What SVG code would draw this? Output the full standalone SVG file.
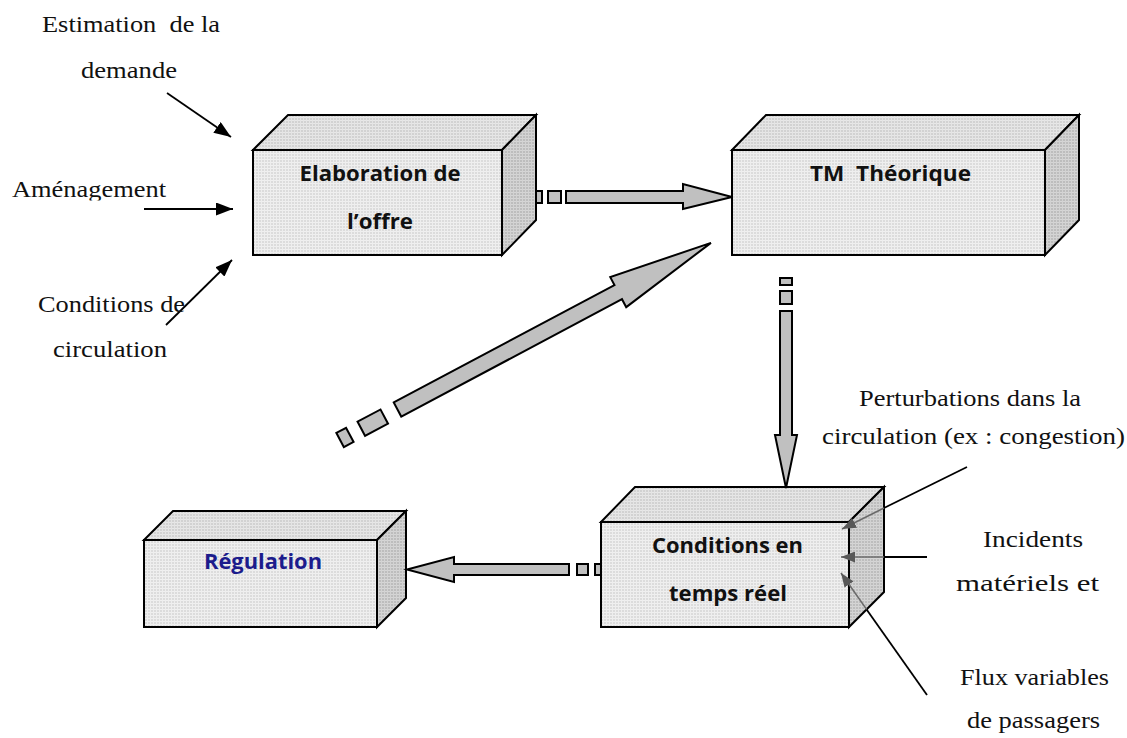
<svg xmlns="http://www.w3.org/2000/svg" width="1127" height="738" viewBox="0 0 1127 738">
<style>
.face{stroke:#000;stroke-width:2;stroke-linejoin:miter}
.front{fill:url(#pFront)}
.top{fill:url(#pTop)}
.side{fill:url(#pSide)}
.lbl{font-family:"Open Sans","Liberation Sans",sans-serif;font-weight:700;font-size:21px;fill:#111;text-anchor:middle}
.ext{font-family:"Liberation Serif","Times New Roman",Times,serif;font-size:23.5px;fill:#111;white-space:pre}
.blk{fill:#c0c0c0;stroke:#000;stroke-width:2;stroke-linejoin:miter}
.ln{stroke:#000;stroke-width:1.8;fill:none}
.lng{stroke:#6a6a6a;stroke-width:1.6;fill:none}
</style>
<defs>
<pattern id="pFront" width="3" height="3" patternUnits="userSpaceOnUse">
<rect width="3" height="3" fill="#dcdcdc"/>
<rect width="3" height="1" fill="#f0f0f0"/>
<rect width="1" height="3" fill="#eeeeee"/>
</pattern>
<pattern id="pTop" width="3" height="3" patternUnits="userSpaceOnUse">
<rect width="3" height="3" fill="#d2d2d2"/>
<rect width="3" height="1" fill="#e8e8e8"/>
<rect width="1" height="3" fill="#e4e4e4"/>
</pattern>
<pattern id="pSide" width="3" height="3" patternUnits="userSpaceOnUse">
<rect width="3" height="3" fill="#bdbdbd"/>
<rect width="3" height="1" fill="#d6d6d6"/>
<rect width="1" height="3" fill="#d2d2d2"/>
</pattern>
<marker id="mBlk" viewBox="0 0 17 13" refX="17" refY="6.5" markerWidth="17" markerHeight="13" markerUnits="userSpaceOnUse" orient="auto">
<path d="M0,0 L17,6.5 L0,13 z" fill="#000"/>
</marker>
<marker id="mGry" viewBox="0 0 14 11" refX="14" refY="5.5" markerWidth="14" markerHeight="11" markerUnits="userSpaceOnUse" orient="auto">
<path d="M0,0 L14,5.5 L0,11 z" fill="#585858"/>
</marker>
<clipPath id="clipAm"><rect x="0" y="150" width="250" height="50.5"/></clipPath>
<clipPath id="clipCirc"><rect x="800" y="410" width="327" height="40"/></clipPath>
</defs>
<rect width="1127" height="738" fill="#fff"/>

<g id="node-elaboration">
<polygon class="face top" points="253,150 288,115 536,115 502,150"/>
<polygon class="face side" points="502,150 536,115 536,220 502,255"/>
<rect class="face front" x="253" y="150" width="249" height="105"/>
<text class="lbl" x="380" y="181" textLength="161" lengthAdjust="spacingAndGlyphs">Elaboration de</text>
<text class="lbl" x="380" y="229" textLength="66" lengthAdjust="spacingAndGlyphs">l’offre</text>
</g>

<g id="node-tm">
<polygon class="face top" points="732,150 766,115 1079,115 1045,150"/>
<polygon class="face side" points="1045,150 1079,115 1079,220 1045,255"/>
<rect class="face front" x="732" y="150" width="313" height="105"/>
<text class="lbl" x="890.5" y="181" textLength="161" lengthAdjust="spacingAndGlyphs" style="white-space:pre">TM  Théorique</text>
</g>

<g id="node-conditions">
<polygon class="face top" points="601,522 635,487 884,487 849,522"/>
<polygon class="face side" points="849,522 884,487 884,592 849,627"/>
<rect class="face front" x="601" y="522" width="248" height="105"/>
<text class="lbl" x="727.5" y="553" textLength="151" lengthAdjust="spacingAndGlyphs">Conditions en</text>
<text class="lbl" x="728" y="601" textLength="118" lengthAdjust="spacingAndGlyphs">temps réel</text>
</g>

<g id="node-regulation">
<polygon class="face top" points="144,540 173,511 406,511 377,540"/>
<polygon class="face side" points="377,540 406,511 406,598 377,627"/>
<rect class="face front" x="144" y="540" width="233" height="87"/>
<text class="lbl" x="263" y="569" textLength="118" lengthAdjust="spacingAndGlyphs" style="fill:#1c1c8c">Régulation</text>
</g>

<g id="connectors">
<rect class="blk" x="536" y="191" width="6" height="12"/>
<rect class="blk" x="548" y="191" width="13" height="12"/>
<polygon class="blk" points="566,191 683,191 683,184 732,197 683,209 683,203 566,203"/>
<g transform="translate(397.5,409.5) rotate(-28)">
<rect class="blk" x="-65" y="-8" width="11" height="16"/>
<rect class="blk" x="-41" y="-8" width="26" height="16"/>
<polygon class="blk" points="0,-8 250,-8 250,-17 355,0 250,17 250,8 0,8"/>
</g>
<rect class="blk" x="780" y="278" width="12" height="7"/>
<rect class="blk" x="780" y="291" width="12" height="13"/>
<polygon class="blk" points="780,311 792,311 792,435 797,435 786,488 775,435 780,435"/>
<rect class="blk" x="595" y="564" width="6" height="11"/>
<rect class="blk" x="577" y="564" width="11" height="11"/>
<polygon class="blk" points="569,564 454,564 454,557 407,569.5 454,582 454,575 569,575"/>
<line class="ln" x1="167" y1="93" x2="231" y2="137" marker-end="url(#mBlk)"/>
<line class="ln" x1="144" y1="209" x2="233" y2="209" marker-end="url(#mBlk)"/>
<line class="ln" x1="166" y1="325" x2="232" y2="260" marker-end="url(#mBlk)"/>
<line class="ln" x1="967" y1="467" x2="884" y2="508"/>
<line class="lng" x1="884" y1="508" x2="842" y2="529" marker-end="url(#mGry)"/>
<line class="ln" x1="927" y1="557" x2="884" y2="557"/>
<line class="lng" x1="884" y1="557" x2="841" y2="557" marker-end="url(#mGry)"/>
<line class="ln" x1="927" y1="695" x2="866.6" y2="609.4"/>
<line class="lng" x1="866.6" y1="609.4" x2="841" y2="573" marker-end="url(#mGry)"/>
</g>

<g id="labels">
<text class="ext" x="42" y="32" textLength="178" lengthAdjust="spacingAndGlyphs">Estimation  de la</text>
<text class="ext" x="81" y="78" textLength="96" lengthAdjust="spacingAndGlyphs">demande</text>
<text class="ext" x="12" y="197" textLength="154" lengthAdjust="spacingAndGlyphs" clip-path="url(#clipAm)">Aménagement</text>
<text class="ext" x="38" y="312" textLength="147" lengthAdjust="spacingAndGlyphs">Conditions de</text>
<text class="ext" x="53" y="357" textLength="114" lengthAdjust="spacingAndGlyphs">circulation</text>
<text class="ext" x="859" y="406" textLength="222" lengthAdjust="spacingAndGlyphs">Perturbations dans la</text>
<text class="ext" x="822" y="444" textLength="303" lengthAdjust="spacingAndGlyphs" clip-path="url(#clipCirc)">circulation (ex : congestion)</text>
<text class="ext" x="983" y="547" textLength="100" lengthAdjust="spacingAndGlyphs">Incidents</text>
<text class="ext" x="956" y="591" textLength="143" lengthAdjust="spacingAndGlyphs">matériels et</text>
<text class="ext" x="960" y="685" textLength="149" lengthAdjust="spacingAndGlyphs">Flux variables</text>
<text class="ext" x="967" y="728" textLength="133" lengthAdjust="spacingAndGlyphs">de passagers</text>
</g>
</svg>
